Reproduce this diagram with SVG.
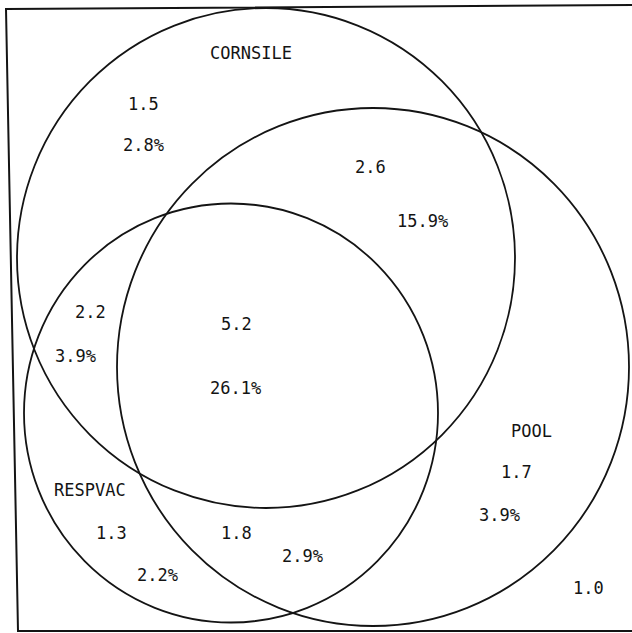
<svg xmlns="http://www.w3.org/2000/svg" width="632" height="633" viewBox="0 0 632 633">
<style>
.set{fill:none;stroke:#141414;stroke-width:1.8}
.frame{fill:none;stroke:#141414;stroke-width:2}
text{font-family:"DejaVu Sans Mono","Liberation Mono",monospace;font-size:17px;fill:#141414}
</style>
<rect width="632" height="633" fill="#ffffff"/>
<g id="frame">
<polyline class="frame" points="632,5 6,9 18,631 632,631"/>
</g>
<g id="cornsile">
<ellipse class="set" cx="266" cy="258" rx="249" ry="250"/>
<text x="210" y="59">CORNSILE</text>
</g>
<g id="pool">
<ellipse class="set" cx="373" cy="367" rx="256" ry="259"/>
<text x="511" y="437">POOL</text>
</g>
<g id="respvac">
<ellipse class="set" cx="231" cy="413" rx="207" ry="209.5"/>
<text x="54" y="496">RESPVAC</text>
</g>
<g id="region-values">
<text x="128" y="110">1.5</text>
<text x="123" y="151">2.8%</text>
<text x="355" y="173">2.6</text>
<text x="397" y="227">15.9%</text>
<text x="75" y="318">2.2</text>
<text x="55" y="362">3.9%</text>
<text x="221" y="330">5.2</text>
<text x="210" y="394">26.1%</text>
<text x="501" y="478">1.7</text>
<text x="479" y="521">3.9%</text>
<text x="96" y="539">1.3</text>
<text x="137" y="581">2.2%</text>
<text x="221" y="539">1.8</text>
<text x="282" y="562">2.9%</text>
<text x="573" y="594">1.0</text>
</g>
</svg>
